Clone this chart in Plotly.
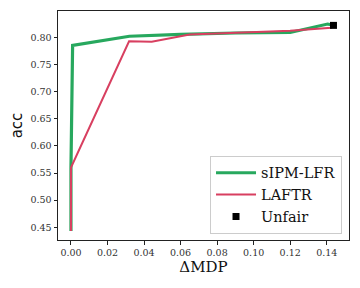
import plotly.graph_objects as go

sipm_x = [0.0, 0.0, 0.0009, 0.032, 0.06, 0.09, 0.12, 0.1405, 0.1437]
sipm_y = [0.443, 0.56, 0.785, 0.802, 0.8055, 0.808, 0.809, 0.8245, 0.822]
laftr_x = [0.0, 0.0, 0.0318, 0.0442, 0.065, 0.10, 0.12, 0.1425, 0.1437]
laftr_y = [0.443, 0.56, 0.7926, 0.792, 0.805, 0.81, 0.812, 0.8175, 0.822]
unfair_x = [0.1437]
unfair_y = [0.822]

xticks = [0.00, 0.02, 0.04, 0.06, 0.08, 0.10, 0.12, 0.14]
yticks = [0.45, 0.50, 0.55, 0.60, 0.65, 0.70, 0.75, 0.80]

SERIF = "DejaVu Serif, Liberation Serif, serif"

fig = go.Figure()
fig.add_trace(go.Scatter(x=sipm_x, y=sipm_y, mode="lines", name="sIPM-LFR",
                         line=dict(color="#27a85e", width=3.2)))
fig.add_trace(go.Scatter(x=laftr_x, y=laftr_y, mode="lines", name="LAFTR",
                         line=dict(color="#d83f60", width=2)))
fig.add_trace(go.Scatter(x=unfair_x, y=unfair_y, mode="markers", name="Unfair",
                         marker=dict(color="black", symbol="square", size=7)))

axis_common = dict(showgrid=False, zeroline=False, showline=True, linecolor="#222",
                   linewidth=1, mirror=True, ticks="outside", ticklen=3.5,
                   tickcolor="#222", automargin=False,
                   tickfont=dict(family=SERIF, size=9.5, color="#333"))
fig.update_xaxes(range=[-0.0071, 0.1522], tickvals=xticks, tickformat=".2f",
                 title=dict(text="ΔMDP", font=dict(family=SERIF, size=15, color="#111"), standoff=4),
                 **axis_common)
fig.update_yaxes(range=[0.4266, 0.8485], tickvals=yticks, tickformat=".2f",
                 title=dict(text="acc", font=dict(family="DejaVu Sans, sans-serif", size=15, color="#111"), standoff=6),
                 **axis_common)
fig.update_layout(
    width=352, height=280,
    margin=dict(l=50, r=11, t=3, b=48, autoexpand=False),
    plot_bgcolor="white", paper_bgcolor="white",
    legend=dict(x=0.976, y=0.027, xanchor="right", yanchor="bottom",
                bgcolor="white", bordercolor="#cccccc", borderwidth=1,
                font=dict(family=SERIF, size=14.5, color="#111"),
                itemwidth=40, tracegroupgap=0),
    showlegend=True,
)
fig.write_html("out.html")
